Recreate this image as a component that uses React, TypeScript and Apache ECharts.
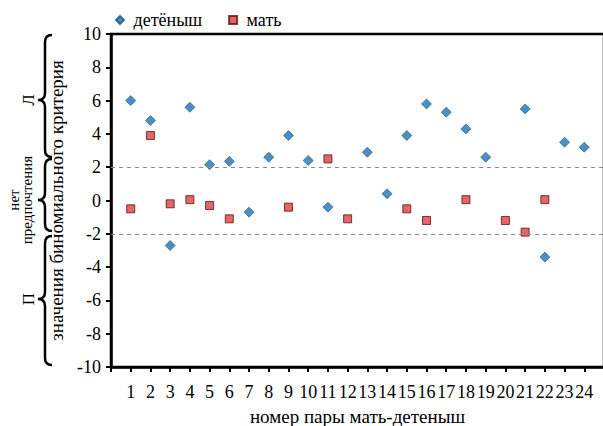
import React, { useEffect, useRef } from "react";
import * as echarts from "echarts";

// Pair numbers (x axis) and binomial test values for each pair
const pairNumbers = [1, 2, 3, 4, 5, 6, 7, 8, 9, 10, 11, 12, 13, 14, 15, 16, 17, 18, 19, 20, 21, 22, 23, 24];
const cubValues: (number | null)[] = [6.0, 4.8, -2.7, 5.6, 2.15, 2.35, -0.7, 2.6, 3.9, 2.4, -0.4, null, 2.9, 0.4, 3.9, 5.8, 5.3, 4.3, 2.6, null, 5.5, -3.4, 3.5, 3.2];
const motherValues: (number | null)[] = [-0.5, 3.9, -0.2, 0.05, -0.3, -1.1, null, null, -0.4, null, 2.5, -1.1, null, null, -0.5, -1.2, null, 0.05, null, -1.2, -1.9, 0.05, null, null];
const thresholds = [2, -2];
const yTicks = [-10, -8, -6, -4, -2, 0, 2, 4, 6, 8, 10];

// Left-side braces: [top px, bottom px, tip px, label]
const braceLayout: [number, number, number, string][] = [
  [35, 157, 100, "Л"],
  [159, 231, 200, "нет\nпредпочтения"],
  [236, 365, 299, "П"],
];

const FONT = "Liberation Serif, serif";

echarts.graphic.registerShape(
  "brace",
  echarts.graphic.extendShape({
    shape: { x: 0, y1: 0, y2: 0, ym: 0, tip: 7, arm: 7, r: 7 },
    buildPath(ctx: any, s: any) {
      ctx.moveTo(s.x + s.arm, s.y1);
      ctx.quadraticCurveTo(s.x, s.y1, s.x, s.y1 + s.r);
      ctx.lineTo(s.x, s.ym - s.r);
      ctx.quadraticCurveTo(s.x, s.ym, s.x - s.tip, s.ym);
      ctx.quadraticCurveTo(s.x, s.ym, s.x, s.ym + s.r);
      ctx.lineTo(s.x, s.y2 - s.r);
      ctx.quadraticCurveTo(s.x, s.y2, s.x + s.arm, s.y2);
    },
  })
);

const toPoints = (vals: (number | null)[]) =>
  pairNumbers
    .map((p, i) => [p, vals[i]])
    .filter((d) => d[1] !== null);

export default function App() {
  const ref = useRef<HTMLDivElement>(null);

  useEffect(() => {
    if (!ref.current) return;
    const chart = echarts.init(ref.current, undefined, { renderer: "svg" });

    const braces: any[] = [];
    braceLayout.forEach(([y1, y2, ym, label]) => {
      braces.push({
        type: "brace",
        shape: { x: 45, y1, y2, ym, tip: 7, arm: 7, r: 7 },
        style: { fill: "none", stroke: "#000", lineWidth: 2.5 },
        silent: true,
      });
      const multi = label.includes("\n");
      braces.push({
        type: "text",
        x: multi ? 20 : 28,
        y: ym,
        rotation: Math.PI / 2,
        style: {
          text: label,
          fontFamily: FONT,
          fontSize: multi ? 15 : 17,
          lineHeight: 13,
          fill: "#000",
          align: "center",
          verticalAlign: "middle",
        },
        silent: true,
      });
    });

    chart.setOption({
      animation: false,
      backgroundColor: "#fff",
      textStyle: { fontFamily: FONT, color: "#000" },
      legend: {
        left: 110,
        top: 6,
        itemWidth: 8,
        itemHeight: 8,
        itemGap: 26,
        formatter: (name: string) => " " + name,
        textStyle: { fontFamily: FONT, fontSize: 18, color: "#000" },
        data: ["детёныш", "мать"],
      },
      grid: {
        left: 111,
        top: 34,
        width: 493,
        height: 333,
        outerBoundsMode: "none",
        containLabel: false,
        show: true,
        borderColor: "#000",
        borderWidth: 2.5,
      },
      xAxis: {
        type: "value",
        min: 0,
        max: 25,
        interval: 1,
        name: "номер пары мать-детеныш",
        nameLocation: "middle",
        nameGap: 40,
        nameTextStyle: { fontFamily: FONT, fontSize: 19, color: "#000" },
        axisLine: { show: true, onZero: false, lineStyle: { color: "#000", width: 2.5 } },
        axisTick: { show: true, length: 5, lineStyle: { color: "#000", width: 2 } },
        axisLabel: {
          fontFamily: FONT,
          fontSize: 18,
          color: "#000",
          margin: 16,
          formatter: (v: number) => (pairNumbers.includes(v) ? String(v) : ""),
        },
        splitLine: { show: false },
      },
      yAxis: {
        type: "value",
        min: yTicks[0],
        max: yTicks[yTicks.length - 1],
        interval: 2,
        name: "значения биномиального критерия",
        nameLocation: "middle",
        nameGap: 30,
        nameRotate: 90,
        nameTextStyle: { fontFamily: FONT, fontSize: 19, color: "#000" },
        axisLine: { show: true, onZero: false, lineStyle: { color: "#000", width: 2.5 } },
        axisTick: { show: true, length: 5, lineStyle: { color: "#000", width: 2 } },
        axisLabel: { fontFamily: FONT, fontSize: 18, color: "#000", margin: 10 },
        splitLine: { show: false },
      },
      graphic: braces,
      series: [
        {
          name: "детёныш",
          type: "scatter",
          symbol: "diamond",
          symbolSize: 10,
          itemStyle: { color: "#1f73b3", borderColor: "#1a5585", borderWidth: 0.8 },
          data: toPoints(cubValues),
          z: 3,
        },
        {
          name: "мать",
          type: "scatter",
          symbol: "rect",
          symbolSize: 8,
          itemStyle: { color: "#dd4040", borderColor: "#5a1414", borderWidth: 1 },
          data: toPoints(motherValues),
          z: 3,
          markLine: {
            silent: true,
            symbol: "none",
            label: { show: false },
            lineStyle: { color: "#8a8a8a", type: [4, 4], width: 1 },
            data: thresholds.map((t) => ({ yAxis: t })),
          },
        },
      ],
    });

    return () => chart.dispose();
  }, []);

  return <div ref={ref} style={{ width: 603, height: 426, position: "absolute", left: 0, top: 0 }} />;
}
